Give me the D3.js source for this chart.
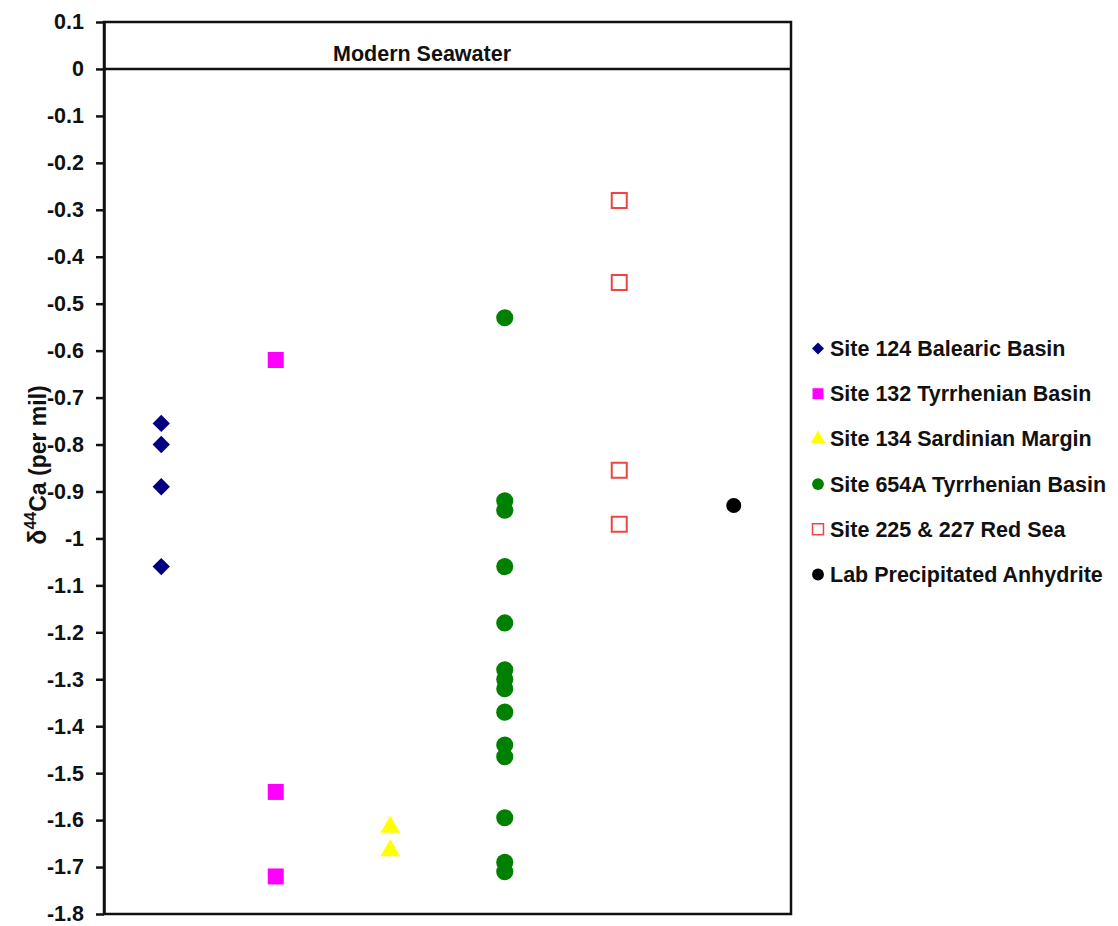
<!DOCTYPE html>
<html>
<head>
<meta charset="utf-8">
<script src="https://cdn.jsdelivr.net/npm/d3@7"></script>
<style>
  html, body { margin: 0; padding: 0; background: #fff; }
  svg { display: block; font-family: "Liberation Sans", Arial, sans-serif; font-weight: bold; }
</style>
</head>
<body>
<svg id="chart" width="1118" height="926"></svg>
<script>
// δ44Ca values (per mil) by drill site
const seriesNames = [
  "Site 124 Balearic Basin",
  "Site 132 Tyrrhenian Basin",
  "Site 134 Sardinian Margin",
  "Site 654A Tyrrhenian Basin",
  "Site 225 & 227 Red Sea",
  "Lab Precipitated Anhydrite"
];
const site124 = [-0.755, -0.80, -0.89, -1.06];
const site132 = [-0.62, -1.54, -1.72];
const site134 = [-1.615, -1.665];
const site654A = [-0.53, -0.92, -0.94, -1.06, -1.18, -1.28, -1.30, -1.32, -1.37, -1.44, -1.465, -1.595, -1.69, -1.71];
const site225_227 = [-0.28, -0.455, -0.855, -0.97];
const labAnhydrite = [-0.93];
const yTickValues = [0.1, 0, -0.1, -0.2, -0.3, -0.4, -0.5, -0.6, -0.7, -0.8, -0.9, -1, -1.1, -1.2, -1.3, -1.4, -1.5, -1.6, -1.7, -1.8];
const seawaterLabel = "Modern Seawater";

const svg = d3.select("#chart");
const plot = { left: 104, right: 791, top: 22, bottom: 914 };

const x = d3.scaleLinear().domain([0.5, 6.5]).range([plot.left, plot.right]);
const y = d3.scaleLinear().domain([0.1, -1.8]).range([plot.top, plot.bottom]);

// Marker styles for each series (rotate: square turned into a diamond)
const styles = [
  { type: d3.symbolSquare, size: 150, rotate: 45, fill: "#000080", stroke: "none", legendSize: 72 },
  { type: d3.symbolSquare, size: 256, rotate: 0, fill: "#ff00ff", stroke: "none", legendSize: 120 },
  { type: d3.symbolTriangle, size: 170, rotate: 0, fill: "#ffff00", stroke: "none", legendSize: 90 },
  { type: d3.symbolCircle, size: 230, rotate: 0, fill: "#008000", stroke: "none", legendSize: 110 },
  { type: d3.symbolSquare, size: 225, rotate: 0, fill: "#ffffff", stroke: "#f04444", legendSize: 120 },
  { type: d3.symbolCircle, size: 175, rotate: 0, fill: "#000000", stroke: "none", legendSize: 110 }
];
const seriesValues = [site124, site132, site134, site654A, site225_227, labAnhydrite];

// Modern seawater reference line at 0
svg.append("line")
  .attr("x1", plot.left).attr("x2", plot.right)
  .attr("y1", y(0)).attr("y2", y(0))
  .attr("stroke", "#111").attr("stroke-width", 2.5);

svg.append("text")
  .attr("x", 333).attr("y", y(0) - 7.5)
  .attr("font-size", 21.5)
  .attr("fill", "#111")
  .text(seawaterLabel);

// Data points
seriesValues.forEach((vals, i) => {
  const st = styles[i];
  const sym = d3.symbol().type(st.type).size(st.size);
  svg.append("g").selectAll("path")
    .data(vals)
    .join("path")
    .attr("d", sym)
    .attr("transform", d => `translate(${x(i + 1)},${y(d)}) rotate(${st.rotate})`)
    .attr("fill", st.fill)
    .attr("stroke", st.stroke)
    .attr("stroke-width", st.stroke === "none" ? 0 : 2);
});

// Plot frame
svg.append("rect")
  .attr("x", plot.left).attr("y", plot.top)
  .attr("width", plot.right - plot.left).attr("height", plot.bottom - plot.top)
  .attr("fill", "none").attr("stroke", "#111").attr("stroke-width", 2.5);

// Y axis
const fmt = v => String(+v.toFixed(1));
const yAxis = svg.append("g")
  .attr("transform", `translate(${plot.left},0)`)
  .call(d3.axisLeft(y).tickValues(yTickValues).tickFormat(fmt).tickSize(8).tickSizeOuter(0).tickPadding(12));
yAxis.select(".domain").attr("stroke", "#111").attr("stroke-width", 2.5);
yAxis.selectAll(".tick line").attr("stroke", "#111").attr("stroke-width", 2.5);
yAxis.selectAll(".tick text")
  .attr("font-size", 21.5)
  .attr("font-family", "\"Liberation Sans\", Arial, sans-serif")
  .attr("font-weight", "bold")
  .attr("fill", "#111");

// Y axis title
const title = svg.append("text")
  .attr("transform", `translate(46,465) rotate(-90)`)
  .attr("text-anchor", "middle")
  .attr("font-size", 23)
  .attr("fill", "#111");
title.append("tspan").attr("font-size", 25).text("δ");
title.append("tspan").attr("dy", -10).attr("font-size", 16).text("44");
title.append("tspan").attr("dy", 10).text("Ca (per mil)");

// Legend
const legend = svg.append("g");
const legendTop = 348.5, legendStep = 45.2;
seriesNames.forEach((name, i) => {
  const st = styles[i];
  const row = legend.append("g").attr("transform", `translate(818,${legendTop + i * legendStep})`);
  row.append("path")
    .attr("d", d3.symbol().type(st.type).size(st.legendSize))
    .attr("transform", `rotate(${st.rotate})`)
    .attr("fill", st.fill)
    .attr("stroke", st.stroke)
    .attr("stroke-width", st.stroke === "none" ? 0 : 1.5);
  row.append("text")
    .attr("x", 12).attr("y", 7.5)
    .attr("font-size", 21.5)
    .attr("fill", "#111")
    .text(name);
});
</script>
</body>
</html>
